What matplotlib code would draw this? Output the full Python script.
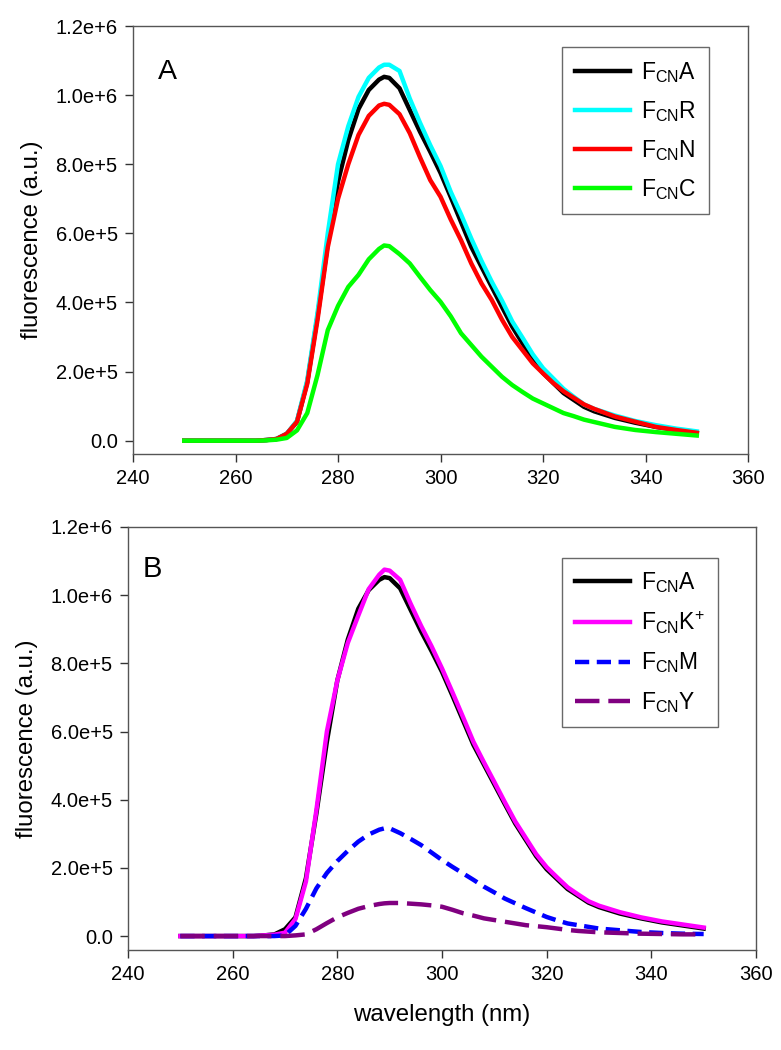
import matplotlib
matplotlib.use("Agg")
import matplotlib.pyplot as plt

plt.rcParams['font.family'] = ['Liberation Sans', 'DejaVu Sans']
plt.rcParams['mathtext.fontset'] = 'custom'
plt.rcParams['mathtext.rm'] = 'Liberation Sans'

wavelength = [250, 252, 254, 256, 258, 260, 262, 264, 266, 268, 270, 272, 274, 276, 278,
              280, 282, 284, 286, 288, 289, 290, 292, 294, 296, 298, 300, 302, 304, 306,
              308, 310, 312, 314, 316, 318, 320, 322, 324, 326, 328, 330, 334, 338, 342,
              346, 350]

# Panel A (units of 1e6)
fcn_a = [0, 0, 0, 0, 0, 0, 0, 0, 0.002, 0.005, 0.02, 0.055, 0.17, 0.36, 0.57,
         0.75, 0.87, 0.96, 1.015, 1.045, 1.053, 1.05, 1.02, 0.957, 0.894, 0.836, 0.775, 0.705, 0.633, 0.561,
         0.503, 0.445, 0.387, 0.33, 0.282, 0.234, 0.196, 0.167, 0.138, 0.118, 0.098, 0.085, 0.066, 0.052, 0.04,
         0.031, 0.022]
fcn_r = [0, 0, 0, 0, 0, 0, 0, 0, 0.002, 0.005, 0.02, 0.058, 0.175, 0.37, 0.60,
         0.80, 0.91, 0.995, 1.05, 1.08, 1.088, 1.088, 1.07, 0.99, 0.92, 0.855, 0.795, 0.72, 0.655, 0.585,
         0.52, 0.46, 0.405, 0.345, 0.298, 0.25, 0.21, 0.18, 0.15, 0.127, 0.105, 0.092, 0.073, 0.057, 0.045,
         0.035, 0.027]
fcn_n = [0, 0, 0, 0, 0, 0, 0, 0, 0.002, 0.005, 0.02, 0.055, 0.165, 0.35, 0.56,
         0.70, 0.80, 0.885, 0.94, 0.97, 0.975, 0.972, 0.945, 0.89, 0.82, 0.754, 0.706, 0.64, 0.58, 0.513,
         0.455, 0.407, 0.35, 0.30, 0.262, 0.224, 0.195, 0.167, 0.143, 0.124, 0.105, 0.092, 0.07, 0.055, 0.04,
         0.031, 0.023]
fcn_c = [0, 0, 0, 0, 0, 0, 0, 0, 0.001, 0.003, 0.008, 0.03, 0.08, 0.19, 0.32,
         0.39, 0.445, 0.48, 0.525, 0.555, 0.565, 0.563, 0.54, 0.513, 0.474, 0.436, 0.402, 0.36, 0.311, 0.277,
         0.243, 0.214, 0.185, 0.161, 0.141, 0.122, 0.108, 0.094, 0.08, 0.071, 0.061, 0.054, 0.04, 0.031, 0.025,
         0.02, 0.015]

# Panel B (units of 1e6)
fcn_k = [0, 0, 0, 0, 0, 0, 0, 0, 0.002, 0.004, 0.01, 0.05, 0.16, 0.37, 0.60,
         0.75, 0.86, 0.94, 1.018, 1.06, 1.075, 1.072, 1.045, 0.975, 0.91, 0.85, 0.785, 0.715, 0.643, 0.57,
         0.51, 0.452, 0.393, 0.336, 0.288, 0.24, 0.202, 0.172, 0.143, 0.122, 0.102, 0.089, 0.07, 0.055, 0.043,
         0.034, 0.025]
fcn_m = [0, 0, 0, 0, 0, 0, 0, 0, 0, 0, 0.002, 0.03, 0.08, 0.14, 0.185,
         0.22, 0.25, 0.277, 0.298, 0.312, 0.316, 0.316, 0.302, 0.285, 0.267, 0.245, 0.223, 0.203, 0.184, 0.165,
         0.145, 0.128, 0.11, 0.096, 0.082, 0.069, 0.056, 0.046, 0.037, 0.032, 0.027, 0.022, 0.017, 0.012, 0.009,
         0.007, 0.006]
fcn_y = [0, 0, 0, 0, 0, 0, 0, 0, 0, 0, 0, 0.002, 0.005, 0.02, 0.038,
         0.055, 0.068, 0.08, 0.088, 0.094, 0.096, 0.097, 0.097, 0.095, 0.093, 0.09, 0.086, 0.077, 0.067, 0.06,
         0.052, 0.047, 0.042, 0.037, 0.032, 0.029, 0.026, 0.022, 0.018, 0.015, 0.013, 0.011, 0.009, 0.007, 0.006,
         0.005, 0.005]

yticks = [0, 0.2e6, 0.4e6, 0.6e6, 0.8e6, 1.0e6, 1.2e6]
ytick_labels = ["0.0", "2.0e+5", "4.0e+5", "6.0e+5", "8.0e+5", "1.0e+6", "1.2e+6"]
xticks = [240, 260, 280, 300, 320, 340, 360]

fig = plt.figure(figsize=(7.81, 10.5), dpi=100)
axA = fig.add_axes([0.1703, 0.5676, 0.7875, 0.4076])
axB = fig.add_axes([0.1639, 0.0952, 0.8041, 0.4029])

def scale(v):
    return [x * 1e6 for x in v]

def lab(s):
    return r'$\mathregular{F_{CN}' + s + '}$'

lw = 3.2
axA.plot(wavelength, scale(fcn_a), color='black', lw=lw, label=lab('A'))
axA.plot(wavelength, scale(fcn_r), color='#00FFFF', lw=lw, label=lab('R'))
axA.plot(wavelength, scale(fcn_n), color='#FF0000', lw=lw, label=lab('N'))
axA.plot(wavelength, scale(fcn_c), color='#00FF00', lw=lw, label=lab('C'))

axB.plot(wavelength, scale(fcn_a), color='black', lw=lw, label=lab('A'))
axB.plot(wavelength, scale(fcn_k), color='#FF00FF', lw=lw, label=lab('K^{+}'))
axB.plot(wavelength, scale(fcn_m), color='#0000FF', lw=lw, dashes=(3.2, 1.7), label=lab('M'))
axB.plot(wavelength, scale(fcn_y), color='#800080', lw=lw, dashes=(5.5, 2.0), label=lab('Y'))

for ax, ymin in ((axA, -0.0385e6), (axB, -0.041e6)):
    ax.set_xlim(240, 360)
    ax.set_ylim(ymin, 1.2e6)
    ax.set_xticks(xticks)
    ax.set_xticklabels([str(t) for t in xticks])
    ax.set_yticks(yticks)
    ax.set_yticklabels(ytick_labels)
    ax.tick_params(direction='out', length=6, width=1, colors='#333333', labelsize=14.5,
                   labelcolor='black', pad=5)
    for s in ax.spines.values():
        s.set_color('#555555')
        s.set_linewidth(1.0)
    ax.set_ylabel('fluorescence (a.u.)', fontsize=17.3, labelpad=9)

axB.set_xlabel('wavelength (nm)', fontsize=17.3, labelpad=14)

axA.text(0.04, 0.893, 'A', transform=axA.transAxes, fontsize=20.5, va='center', ha='left')
axB.text(0.024, 0.90, 'B', transform=axB.transAxes, fontsize=21, va='center', ha='left')

for ax, anchor in ((axA, (0.937, 0.951)), (axB, (0.9395, 0.927))):
    leg = ax.legend(loc='upper right', bbox_to_anchor=anchor, borderaxespad=0,
                    fontsize=16.5, frameon=True, fancybox=False, handlelength=2.4,
                    labelspacing=0.62, handletextpad=0.5, borderpad=0.55)
    leg.get_frame().set_edgecolor('#444444')
    leg.get_frame().set_linewidth(1.0)

fig.savefig('out.png', dpi=100)
